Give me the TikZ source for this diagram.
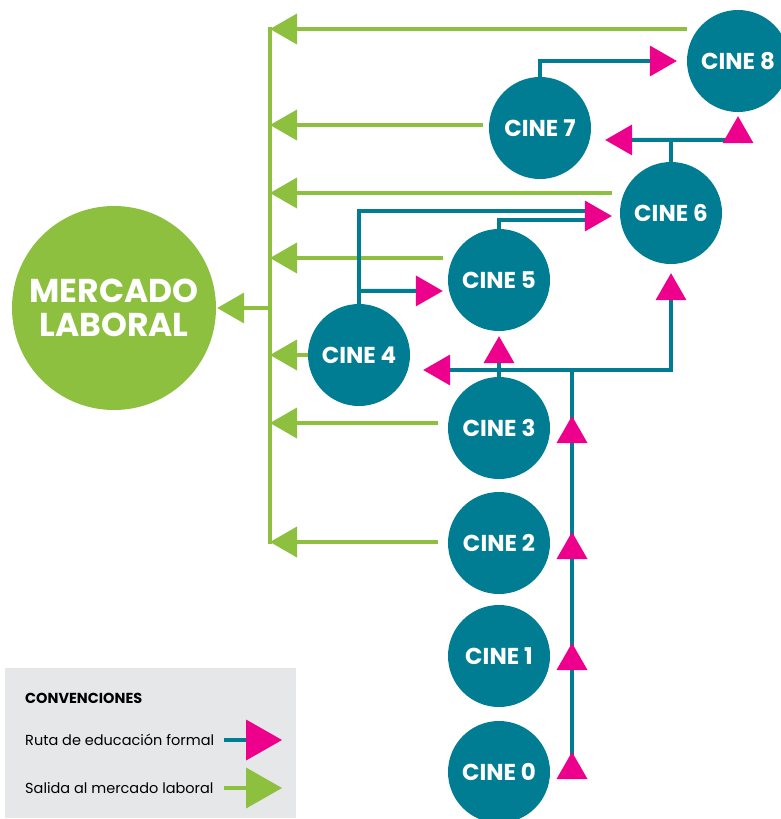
\documentclass[tikz,border=0pt]{standalone}
\usepackage{fontspec}
\setmainfont{Poppins}
\usetikzlibrary{arrows.meta,calc}
\definecolor{cteal}{HTML}{007D92}
\definecolor{cgreen}{HTML}{8EC03F}
\definecolor{cmag}{HTML}{EC008C}
\definecolor{cgray}{HTML}{E6E7E8}
\begin{document}
\begin{tikzpicture}[x=1pt,y=-1pt,
  cine/.style={circle, fill=cteal, minimum size=102pt, inner sep=0pt, text=white,
    font=\bfseries\fontsize{23}{25}\selectfont},
  gl/.style={draw=cgreen, line width=4pt},
  tl/.style={draw=cteal, line width=4pt},
  gtip/.style={-{Triangle[length=27pt,width=31pt,line width=0pt,color=cgreen,fill=cgreen]}},
  mtip/.style={-{Triangle[length=27pt,width=31pt,line width=0pt,color=cmag,fill=cmag]}},
  legtxt/.style={anchor=base west, inner sep=0pt, text=black}
]
\useasboundingbox (0,0) rectangle (781,819);

% nodes
\node[circle, fill=cgreen, minimum size=204pt, inner sep=0pt, text=white, align=center,
  font=\bfseries\fontsize{33}{34}\selectfont] (ml) at (114,308) {MERCADO\\LABORAL};
\node[cine] (c0) at (499,772) {CINE 0};
\node[cine] (c1) at (499,656) {CINE 1};
\node[cine] (c2) at (499,543) {CINE 2};
\node[cine] (c3) at (499,428) {CINE 3};
\node[cine] (c4) at (359,355) {CINE 4};
\node[cine] (c5) at (499,280) {CINE 5};
\node[cine] (c6) at (671,213) {CINE 6};
\node[cine] (c7) at (540,128) {CINE 7};
\node[cine] (c8) at (738,61) {CINE 8};

% green exits
\coordinate (bt) at (270,27);
\coordinate (bb) at (270,544);
\draw[gl] (bt) -- (bb);
\coordinate (g8) at (687,29);
\coordinate (g7) at (483,125);
\coordinate (g6) at (612,193);
\coordinate (g5) at (443,258);
\coordinate (g3) at (438,423);
\coordinate (g2) at (438,542);
\foreach \g in {g8,g7,g6,g5,g3,g2}{
  \draw[gl,gtip] (\g) -- (\g -| bt);
}
\draw[gl,gtip] (c4.west) -- (c4.west -| bt);
\draw[gl,gtip] (ml.east -| bt) -- ($(ml.east)+(1,0)$);

% teal formal route
\coordinate (v0) at (572,777);
\coordinate (vj) at (572,370);
\draw[tl] (v0) -- (vj);
\draw[tl,mtip] ($(c0.center)+(73,6)$) -- ($(c0.center)+(73,-20)$);
\draw[tl,mtip] ($(c1.center)+(73,14)$) -- ($(c1.center)+(73,-13)$);
\draw[tl,mtip] ($(c2.center)+(73,16)$) -- ($(c2.center)+(73,-11)$);
\draw[tl,mtip] ($(c3.center)+(73,14)$) -- ($(c3.center)+(73,-12)$);
\draw[tl,mtip] (vj) -- ($(c4.east)+(13,15)$);
\draw[tl,mtip] (vj) -| ($(c6.south)+(0,9)$);
\draw[tl,mtip] (c3.north) -- ($(c5.south)+(0,5)$);

\coordinate (a6) at ($(c6.west)+(-8,3)$);
\draw[tl] (c4.north) |- ($(a6)+(-24,-5)$);
\draw[tl] (c5.north) |- ($(a6)+(-24,4)$);
\draw[tl,mtip] ($(a6)+(-27,0)$) -- (a6);
\draw[tl,mtip] ($(c4.north)+(0,-13)$) -- ($(c5.west)+(-5,11)$);

\draw[tl] (c6.north) -- ++(0,-22) coordinate (j6);
\draw[tl,mtip] (j6 -| c8.south) -- ($(c7.east)+(14,12)$);
\draw[tl,mtip] ($(c8.south)+(0,31)$) -- ($(c8.south)+(0,4)$);
\draw[tl,mtip] (c7.north) |- ($(c8.west)+(-10,0)$);

% legend
\node[fill=cgray, minimum width=291pt, minimum height=150pt, inner sep=0pt, anchor=north west] (leg) at (5,668) {};
\node[legtxt, font=\bfseries\fontsize{14.5}{15}\selectfont] (lt) at (25,703) {CONVENCIONES};
\node[legtxt, font=\fontsize{14.5}{15}\selectfont] (l1) at (25,745) {Ruta de educación formal};
\node[legtxt, font=\fontsize{14.5}{15}\selectfont] (l2) at (25,793) {Salida al mercado laboral};
\coordinate (k1) at (224,740);
\coordinate (k2) at (224,788);
\draw[tl, -{Triangle[length=36pt,width=41pt,line width=0pt,color=cmag,fill=cmag]}] (k1) -- ++(58,0);
\draw[gl, -{Triangle[length=36pt,width=41pt,line width=0pt,color=cgreen,fill=cgreen]}] (k2) -- ++(58,0);
\end{tikzpicture}
\end{document}
